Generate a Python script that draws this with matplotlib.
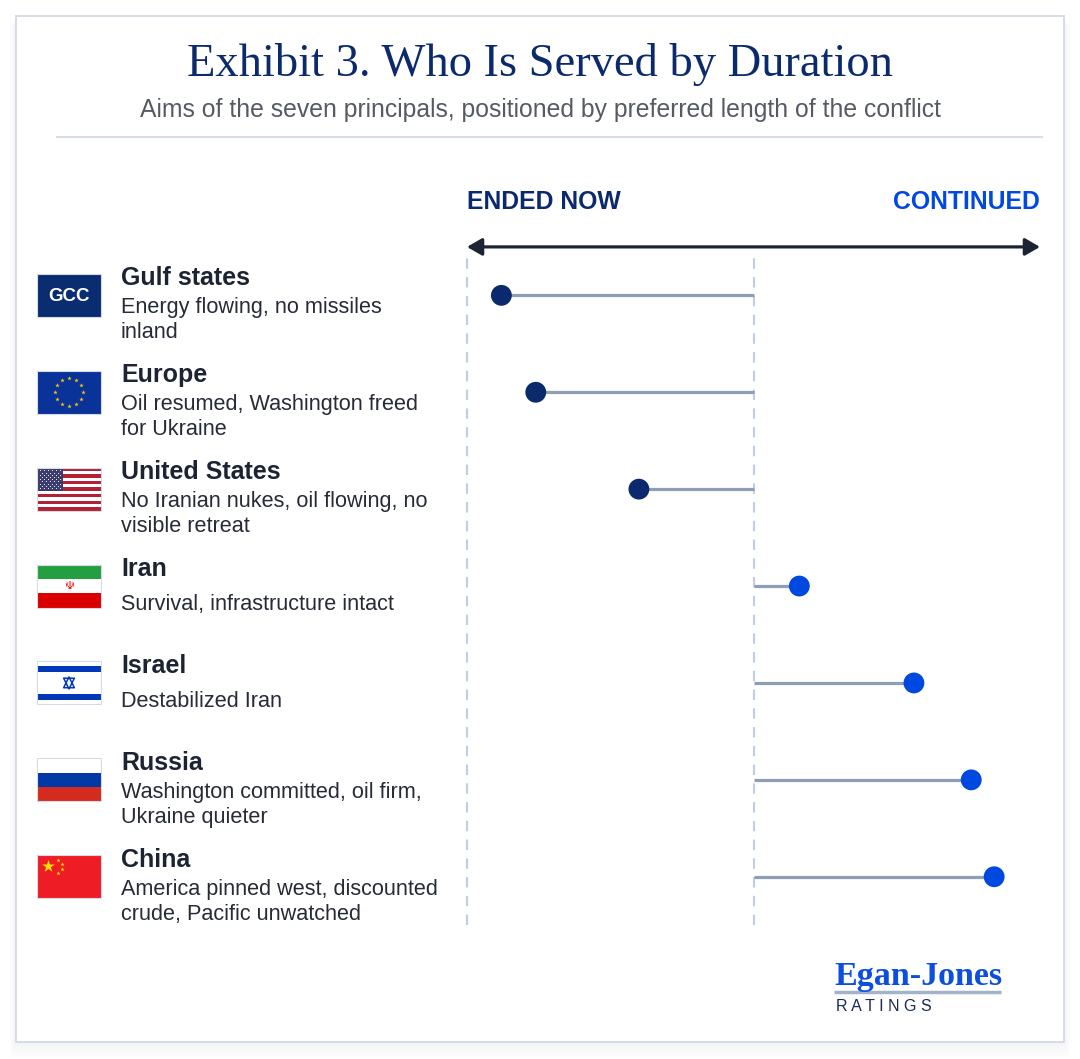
import numpy as np
import matplotlib
matplotlib.use("Agg")
import matplotlib.pyplot as plt
import matplotlib.patches as mpatches

plt.rcParams['font.family'] = ['Liberation Sans', 'DejaVu Sans']

# ---- data -------------------------------------------------------------
names = ["Gulf states", "Europe", "United States", "Iran", "Israel", "Russia", "China"]
aims = ["Energy flowing, no missiles\ninland",
        "Oil resumed, Washington freed\nfor Ukraine",
        "No Iranian nukes, oil flowing, no\nvisible retreat",
        "Survival, infrastructure intact",
        "Destabilized Iran",
        "Washington committed, oil firm,\nUkraine quieter",
        "America pinned west, discounted\ncrude, Pacific unwatched"]
flags = ["gcc", "eu", "us", "ir", "il", "ru", "cn"]
# 0 = ended now, 100 = continued
duration = [6, 12, 30, 58, 78, 88, 92]
midpoint = 50

title = "Exhibit 3. Who Is Served by Duration"
subtitle = "Aims of the seven principals, positioned by preferred length of the conflict"
left_label = "ENDED NOW"
right_label = "CONTINUED"

navy = "#0b2a6e"
blue = "#0049e0"
ink = "#1c2333"
stem_c = "#8d9eb6"
grid_c = "#bfcee6"

W, H = 1080, 1059
fig = plt.figure(figsize=(W / 100, H / 100), dpi=100)
fig.patch.set_facecolor("white")
bg = fig.add_axes([0, 0, 1, 1])
bg.set_xlim(0, W)
bg.set_ylim(H, 0)
bg.axis("off")

# card + soft shadow (mostly below)
for k in range(1, 12):
    bg.add_patch(mpatches.Rectangle((16 - k * 0.6, 16 + k * 0.8), 1048 + 1.2 * k, 1026 + 0.8 * k,
                                    facecolor="#000000", alpha=0.004, lw=0, zorder=0))
bg.add_patch(mpatches.Rectangle((16, 16), 1048, 1026, facecolor="white",
                                edgecolor="#d2d9e6", lw=1.3, zorder=1))

bg.text(540, 76, title, ha="center", va="baseline", fontsize=33.5, color=navy,
        family=["Liberation Serif", "DejaVu Serif"], zorder=3)
bg.text(540, 117, subtitle, ha="center", va="baseline", fontsize=17.8, color="#555a63", zorder=3)
bg.plot([57, 1042], [137, 137], color="#d8dee8", lw=1.5, zorder=2)

bg.text(467, 209, left_label, ha="left", va="baseline", fontsize=17.8,
        fontweight="bold", color=navy, zorder=3)
bg.text(1040, 209, right_label, ha="right", va="baseline", fontsize=17.8,
        fontweight="bold", color=blue, zorder=3)

# ---- chart axes --------------------------------------------------------
ax = fig.add_axes([467 / W, 1 - 925.2 / H, 573 / W, 678.3 / H])
ax.set_xlim(0, 100)
ax.set_ylim(len(names) - 0.5, -0.5)
ax.axis("off")
ax.set_zorder(2)

rows = np.arange(len(names))
for xv in (0, midpoint):
    ax.axvline(xv, ymin=0, ymax=0.994, color=grid_c, lw=1.5, dashes=(5, 4),
               zorder=1, clip_on=False)
ax.hlines(rows, midpoint, duration, color=stem_c, lw=2.3, zorder=2)
dot_colors = [navy if v < midpoint else blue for v in duration]
ax.scatter(duration, rows, s=15 ** 2, c=dot_colors, zorder=3, linewidths=0)

ax.annotate("", xy=(1, 1), xytext=(0, 1), xycoords="axes fraction",
            textcoords="axes fraction", annotation_clip=False,
            arrowprops=dict(arrowstyle="<|-|>,head_length=0.45,head_width=0.26", color=ink, lw=2.3,
                            mutation_scale=20, shrinkA=0, shrinkB=0))

# row centres in background pixel coordinates
disp = ax.transData.transform(np.column_stack([np.zeros(len(rows)), rows]))
row_px = bg.transData.inverted().transform(disp)[:, 1]


def draw_flag(kind, cy):
    x0, w, h = 37, 64, 43
    y0 = cy - h / 2

    def rect(x, y, ww, hh, c, z=3):
        bg.add_patch(mpatches.Rectangle((x, y), ww, hh, facecolor=c, lw=0, zorder=z))

    if kind == "gcc":
        rect(x0, y0, w, h, "#0a2d72")
        bg.text(x0 + w / 2, cy + 1, "GCC", ha="center", va="center", color="white",
                fontsize=13.5, fontweight="bold", zorder=4)
    elif kind == "eu":
        rect(x0, y0, w, h, "#0a3399")
        a = np.linspace(0, 2 * np.pi, 13)[:-1]
        bg.scatter(x0 + w / 2 + 14 * np.cos(a), cy + 14 * np.sin(a), marker="*",
                   s=11, color="#ffcc00", linewidths=0, zorder=4)
    elif kind == "us":
        sh = h / 13
        for k in range(13):
            rect(x0, y0 + k * sh, w, sh, "#b22234" if k % 2 == 0 else "white")
        rect(x0, y0, w * 0.4, sh * 7, "#3c3b6e", z=4)
        xs, ys = np.meshgrid(np.linspace(x0 + 2.5, x0 + w * 0.4 - 2.5, 6),
                             np.linspace(y0 + 2.5, y0 + sh * 7 - 2.5, 5))
        bg.scatter(xs.ravel(), ys.ravel(), s=0.6, color="white", linewidths=0, zorder=5)
        xs, ys = np.meshgrid(np.linspace(x0 + 4.5, x0 + w * 0.4 - 4.5, 5),
                             np.linspace(y0 + 5, y0 + sh * 7 - 5, 4))
        bg.scatter(xs.ravel(), ys.ravel(), s=0.6, color="white", linewidths=0, zorder=5)
    elif kind == "ir":
        rect(x0, y0, w, h / 3, "#239f40")
        rect(x0, y0 + h / 3, w, h / 3, "white")
        rect(x0, y0 + 2 * h / 3, w, h / 3, "#da0000")
        bg.text(x0 + w / 2, cy, "\u262b", ha="center", va="center", color="#da0000",
                fontsize=8, family=["DejaVu Sans"], zorder=4)
    elif kind == "il":
        rect(x0, y0, w, h, "white")
        rect(x0, y0 + h * 0.1, w, h * 0.15, "#0038b8")
        rect(x0, y0 + h * 0.75, w, h * 0.15, "#0038b8")
        for m, dy in (("^", -0.6), ("v", 0.6)):
            bg.scatter([x0 + w / 2], [cy + dy], marker=m, s=60, facecolors="none",
                       edgecolors="#0038b8", linewidths=1.1, zorder=4)
    elif kind == "ru":
        rect(x0, y0, w, h / 3, "white")
        rect(x0, y0 + h / 3, w, h / 3, "#0039a6")
        rect(x0, y0 + 2 * h / 3, w, h / 3, "#d52b1e")
    elif kind == "cn":
        rect(x0, y0, w, h, "#ee1c25")
        bg.scatter([x0 + 10.5], [y0 + 10.5], marker="*", s=90, color="#ffde00",
                   linewidths=0, zorder=4)
        bg.scatter([x0 + 21, x0 + 25, x0 + 25, x0 + 21], [y0 + 4.5, y0 + 8.5, y0 + 14, y0 + 18],
                   marker="*", s=10, color="#ffde00", linewidths=0, zorder=4)
    bg.add_patch(mpatches.Rectangle((x0, y0), w, h, facecolor="none",
                                    edgecolor="#d5dbe6", lw=0.8, zorder=6))


for i in rows:
    cy = row_px[i]
    draw_flag(flags[i], cy)
    bg.text(121, cy - 10, names[i], ha="left", va="baseline", fontsize=18,
            fontweight="bold", color=ink, zorder=3)
    lines = aims[i].split("\n")
    first = cy + 18 if len(lines) > 1 else cy + 24
    for k, ln in enumerate(lines):
        bg.text(121, first + 25 * k, ln, ha="left", va="baseline", fontsize=15.6,
                color="#262b36", zorder=3)

# ---- logo --------------------------------------------------------------
bg.plot([834, 1001], [992, 992], color="#a3b3c9", lw=2.5, zorder=2,
        solid_capstyle="butt")
bg.text(834, 985, "Egan-Jones", ha="left", va="baseline", fontsize=24.5,
        fontweight="bold", color="#0b4ee0", family=["Liberation Serif", "DejaVu Serif"],
        zorder=3)
bg.text(836, 1011, " ".join("RATINGS"), ha="left", va="baseline", fontsize=11.5,
        color="#1a2a55", zorder=3)

fig.savefig("out.png", dpi=100, facecolor="white")
